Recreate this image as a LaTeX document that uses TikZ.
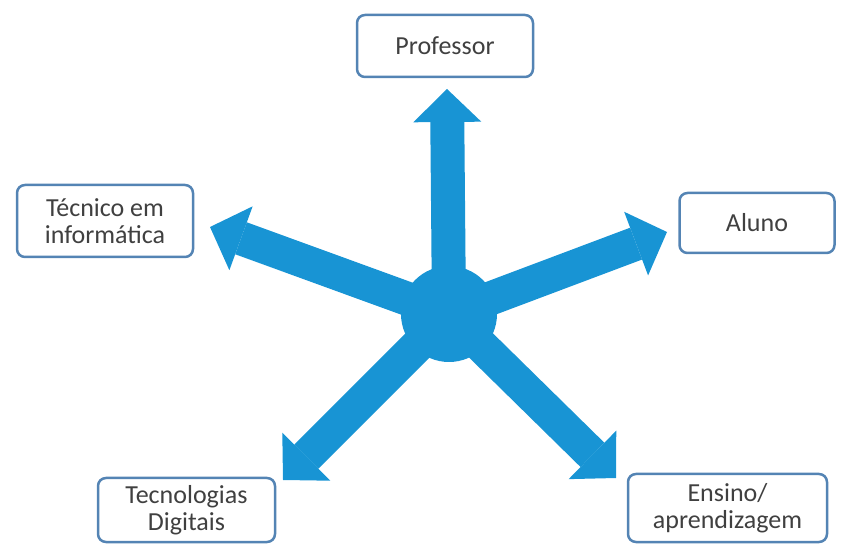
\documentclass[tikz,border=0pt]{standalone}
\usepackage{fontspec}
\setmainfont{Carlito}
\usetikzlibrary{arrows.meta}
\definecolor{seta}{RGB}{24,148,212}
\definecolor{borda}{RGB}{84,132,180}
\definecolor{texto}{RGB}{64,64,64}

\begin{document}
\begin{tikzpicture}[x=1pt,y=1pt,
	caixa/.style={draw=borda,line width=2.5pt,rounded corners=8pt,fill=white,align=center,
		text=texto,font=\fontsize{26}{27}\selectfont,inner sep=0pt},
	flecha/.style={seta,line width=34pt,-{Triangle[length=33pt,width=68pt,line width=0pt]}}]
	\useasboundingbox (0,0) rectangle (845,543);
	\node[circle,fill=seta,minimum size=96pt,inner sep=0pt] (hub) at (449,229) {};
	\path
	(447,454) coordinate (tProf)
	(210,316) coordinate (tTec)
	(667,311) coordinate (tAlu)
	(283,63) coordinate (tDig)
	(616,65) coordinate (tEns)
	;
	\node[caixa,minimum width=176pt,minimum height=62pt] (prof) at (445,497) {Professor};
	\node[caixa,minimum width=176pt,minimum height=72pt] (tec) at (105,322) {Técnico em\\informática};
	\node[caixa,minimum width=155pt,minimum height=60pt] (alu) at (757,320) {Aluno};
	\node[caixa,minimum width=177pt,minimum height=64pt] (dig) at (186.5,33) {Tecnologias\\Digitais};
	\node[caixa,minimum width=199pt,minimum height=68pt] (ens) at (727.5,35) {Ensino/\\aprendizagem};
	\foreach \t in {tProf,tTec,tAlu,tDig,tEns}
		\draw[flecha] (hub.center) -- (\t);
\end{tikzpicture}
\end{document}
